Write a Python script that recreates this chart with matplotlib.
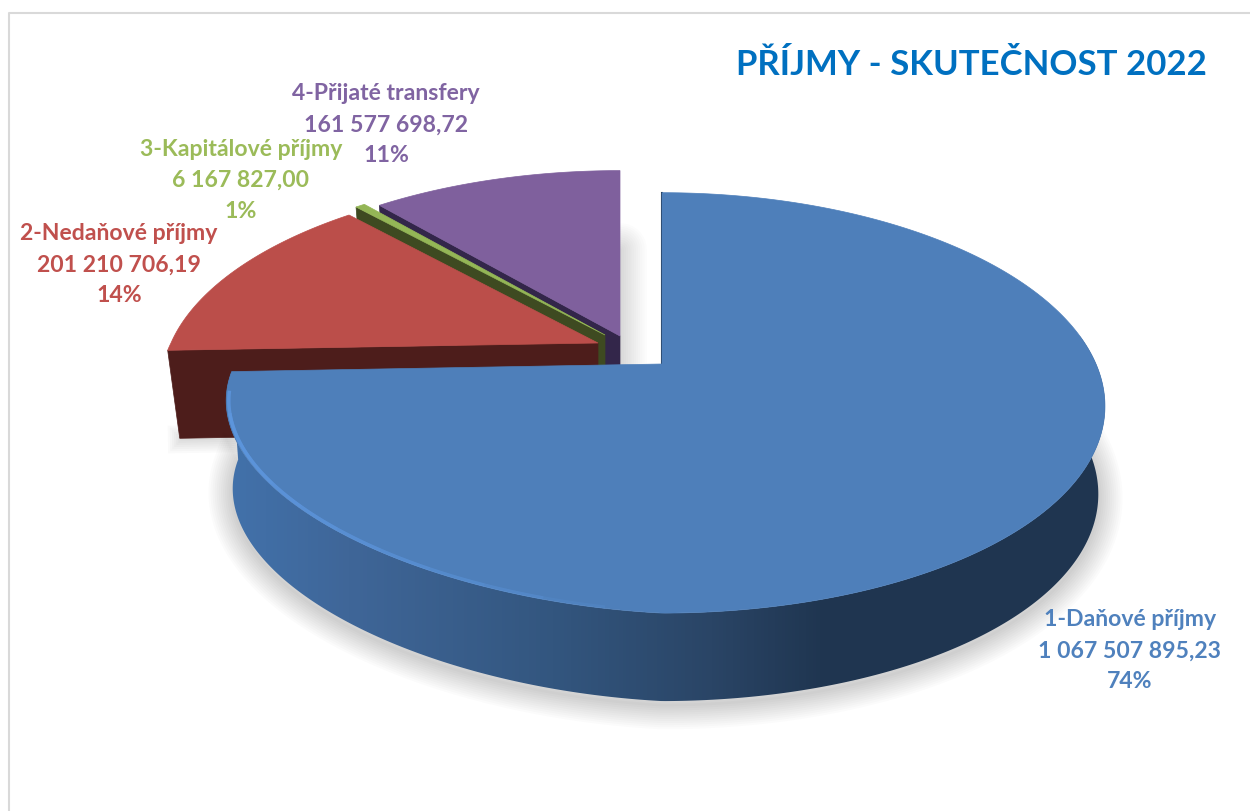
"""Exploded 3D style pie, income 2022"""
import numpy as np
import matplotlib
matplotlib.use('Agg')
import matplotlib.pyplot as plt
from matplotlib.colors import LinearSegmentedColormap
from matplotlib.patches import Polygon

title = 'PŘÍJMY - SKUTEČNOST 2022'
names = ['1-Daňové příjmy', '2-Nedaňové příjmy', '3-Kapitálové příjmy', '4-Přijaté transfery']
values = [1067507895.23, 201210706.19, 6167827.00, 161577698.72]
percents = ['74%', '14%', '1%', '11%']

top_colors = ['#4e7fba', '#bb4e4a', '#94b656', '#7f609d']
wall_colors = ['#1f3550', '#4d1d1b', '#3e4a21', '#33264a']
text_colors = ['#4f81bd', '#c0504d', '#9bbb59', '#8064a2']

plt.rcParams['font.family'] = ['Lato', 'DejaVu Sans']

# slice apex on screen (pixels), vertical radius, shrink of the lower rim
apex = [(662, 365), (598, 344), (605, 336), (620, 337)]
radius_y = [203, 196, 196, 196]
shrink = [0.985, 0.972, 0.972, 0.972]
label_pos = [(1130, 620), (119, 234), (241, 149), (386, 94)]
DEPTH = 88


def rim(start, stop, i, n=200):
    """Outer rim of slice i between two angles (degrees), in pixels"""
    a = np.radians(np.linspace(start, stop, n))
    u, v = np.cos(a), np.sin(a)
    # perspective: the far edge is smaller, the left side a bit narrower
    rx = np.where(u > 0, 434, 427)
    x = apex[i][0] + rx * u / (1 + 0.2 * v)
    y = apex[i][1] - radius_y[i] * v / (1 + 0.185 * v)
    # front left shoulder sits a little higher in the reference
    y = y - 28 * np.clip(-u, 0, None) * np.clip(-v, 0, None)
    return np.column_stack([x, y])


def extrude(pts, i):
    out = pts.copy()
    out[:, 0] = apex[i][0] + (pts[:, 0] - apex[i][0]) * shrink[i]
    out[:, 1] = pts[:, 1] + DEPTH
    return out


def money(v):
    return f'{v:,.2f}'.replace(',', ' ').replace('.', ',')


fig = plt.figure(figsize=(12.5, 8.12), dpi=100)
ax = fig.add_axes([0, 0, 1, 1])
ax.set_xlim(0, 1250)
ax.set_ylim(812, 0)
ax.axis('off')

# frame of the pasted chart
ax.plot([8.5, 8.5, 1250], [812, 13.5, 13.5], color='#d9d9d9', lw=1.5, zorder=1)

# slice angles, clockwise from the top
fractions = np.array(values) / sum(values)
stops = 90 - np.cumsum(fractions) * 360
starts = np.r_[90, stops[:-1]]

# back to front: purple, green, red, blue
for i in [3, 2, 1]:
    edge = rim(starts[i], stops[i], i)
    apex_pt = np.array([apex[i]], dtype=float)
    # soft shadow right of the purple slice, under the red one
    if i == 3:
        for w in range(2, 40, 3):
            ax.plot([apex[i][0], apex[i][0]], [250, 365], color='k', alpha=0.01,
                    lw=w, zorder=2, solid_capstyle='round')
    if i == 1:
        corner = extrude(edge[:1], i)[0]
        for w in range(2, 22, 3):
            ax.plot([corner[0] + 2, 300], [corner[1] + 1, corner[1] - 1], color='k', alpha=0.02,
                    lw=w, zorder=2)
    # cut face at the left end of the slice
    cut = np.vstack([apex_pt, edge[:1]])
    face = np.vstack([cut, extrude(cut, i)[::-1]])
    ax.add_patch(Polygon(face, closed=True, fc=wall_colors[i], ec=wall_colors[i], lw=0.5, zorder=3))
    ax.add_patch(Polygon(np.vstack([apex_pt, edge]), closed=True, fc=top_colors[i],
                         ec=top_colors[i], lw=0.5, zorder=3))

# blue slice: shadow, curved wall with gradient, then top
edge = rim(starts[0], stops[0], 0, n=500)
front = rim(stops[0], 8, 0, n=400)
front_low = extrude(front, 0)
for w in range(2, 38, 3):
    ax.plot(front_low[:, 0], front_low[:, 1] + 4, color='k', alpha=0.014, lw=w, zorder=4)

wall = np.vstack([front, front_low[::-1]])
wall_patch = Polygon(wall, closed=True, fc='none', ec='none', zorder=5)
ax.add_patch(wall_patch)
wall_cmap = LinearSegmentedColormap.from_list('wall', [
    (0.0, '#4272ab'), (0.14, '#3f6698'), (0.37, '#33567f'),
    (0.55, '#2a4566'), (0.68, '#1f3550'), (1.0, '#1f3550')])
img = ax.imshow(np.linspace(0, 1, 256)[None, :], extent=[225, 1110, 812, 0], cmap=wall_cmap,
                aspect='auto', zorder=5)
img.set_clip_path(wall_patch)
ax.set_xlim(0, 1250)
ax.set_ylim(812, 0)

apex_pt = np.array([apex[0]], dtype=float)
ax.plot([apex[0][0], apex[0][0]], [rim(90, 90, 0, 1)[0, 1], apex[0][1]], color='#1f3550', lw=1.5, zorder=5)
ax.add_patch(Polygon(np.vstack([apex_pt, edge]), closed=True, fc=top_colors[0], ec=top_colors[0],
                     lw=0.5, zorder=6))

# bevel highlight on the lower left rim, fading towards the front
bevel = rim(stops[0] + 6, -90, 0, n=120)
centre = np.array([662, 404])
bevel = centre + (bevel - centre) * 0.994
for k in range(0, 100, 10):
    ax.plot(bevel[k:k + 21, 0], bevel[k:k + 21, 1], color='#5d96de', lw=2.5,
            alpha=0.85 * (1 - k / 115), zorder=7, solid_capstyle='butt')

# texts
ax.text(971.5, 65, title, color='#0070c0', fontsize=25, fontweight='bold', ha='center', va='center',
        zorder=8)
for i in range(4):
    x, y = label_pos[i]
    lines = [names[i], money(values[i]), percents[i]]
    for j, line in enumerate(lines):
        ax.text(x, y + j * 31, line, color=text_colors[i], fontsize=16.6, fontweight='bold',
                ha='center', va='center', zorder=8)

fig.savefig('out.png', dpi=100)
